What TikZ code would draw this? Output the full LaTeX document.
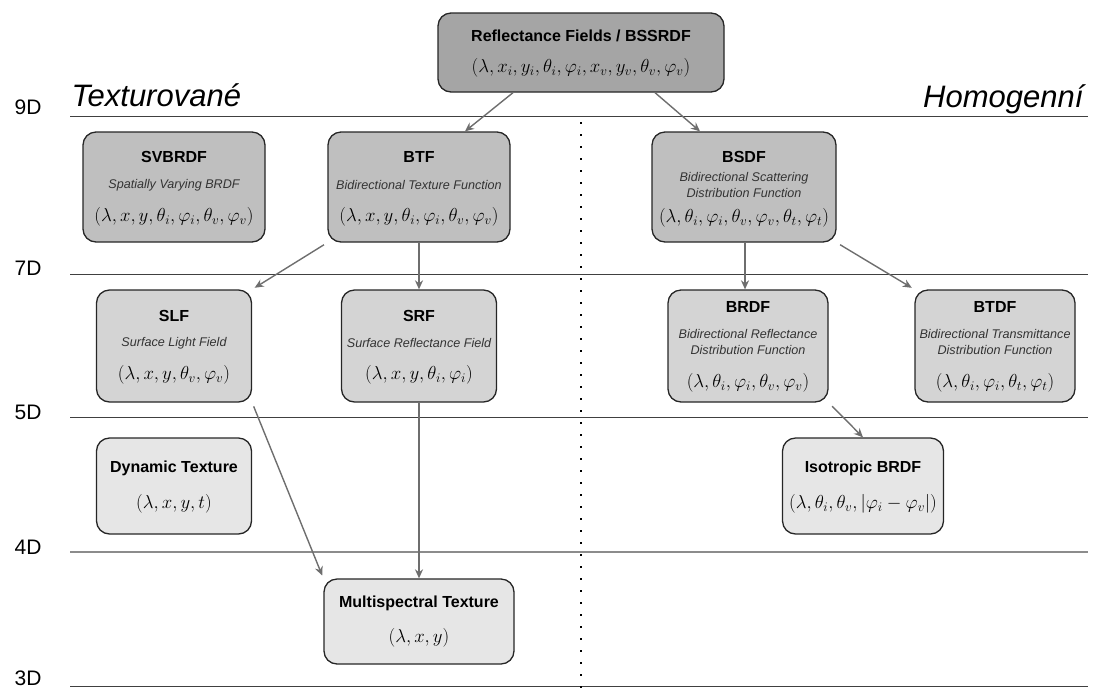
\RequirePackage{fix-cm}
\documentclass[tikz,border=0pt]{standalone}
\usepackage[no-math]{fontspec}
\setmainfont{Liberation Sans}
\usetikzlibrary{arrows.meta,calc}
\definecolor{cA}{HTML}{A5A5A5}
\definecolor{cB}{HTML}{BFBFBF}
\definecolor{cC}{HTML}{D4D4D4}
\definecolor{cD}{HTML}{E6E6E6}
\definecolor{lin}{HTML}{404040}
\definecolor{arr}{HTML}{6E6E6E}
\tikzset{
  bx/.style={draw=black!85, line width=1.3pt, rounded corners=13pt, inner sep=0pt},
  ttl/.style={font=\bfseries\fontsize{16}{18}\selectfont},
  sub/.style={font=\itshape\fontsize{12.6}{16}\selectfont, text=black!80, align=center},
  fm/.style={font=\fontsize{18.8}{21}\selectfont},
  lvl/.style={font=\fontsize{21}{24}\selectfont},
  hd/.style={font=\itshape\fontsize{31}{34}\selectfont},
  hl/.style={draw=lin, line width=1pt},
  hlg/.style={draw=black!45, line width=1.4pt},
  con/.style={draw=arr, line width=1.4pt, -{Stealth[length=9pt,width=8pt]}}
}
\begin{document}
\begin{tikzpicture}[x=1pt,y=-1pt]
\useasboundingbox (0,0) rectangle (1094,689);
% level lines
\foreach \yy/\lab/\ly/\st in {116/9D/107/hl, 274/7D/268/hl, 417/5D/412/hl, 552/4D/547/hlg, 686/3D/678/hl}{
  \draw[\st] (70,\yy) -- (1088,\yy);
  \node[lvl] at (28,\ly) {\lab};
}
\node[hd, anchor=base west] (tex) at (68,106) {Texturované};
\node[hd, anchor=base east] (hom) at (1087,107) {Homogenní};
% dotted separator
\draw[line width=2pt, dash pattern=on 2pt off 10pt] (581,122) -- (581,689);
% boxes
\node[bx, fill=cA, minimum width=286pt, minimum height=79pt] (refl) at (581,52.5) {};
\node[ttl] at (581,36) {Reflectance Fields / BSSRDF};
\node[fm] at (581,68) {$(\lambda, x_i, y_i, \theta_i, \varphi_i, x_v, y_v, \theta_v, \varphi_v)$};

\node[bx, fill=cB, minimum width=182pt, minimum height=110pt] (svb) at (174,187) {};
\node[ttl] at (174,157) {SVBRDF};
\node[sub] at (174,185) {Spatially Varying BRDF};
\node[fm] at (174,217) {$(\lambda, x, y, \theta_i, \varphi_i, \theta_v, \varphi_v)$};

\node[bx, fill=cB, minimum width=182pt, minimum height=110pt] (btf) at (419,187) {};
\node[ttl] at (419,157) {BTF};
\node[sub] at (419,185) {Bidirectional Texture Function};
\node[fm] at (419,217) {$(\lambda, x, y, \theta_i, \varphi_i, \theta_v, \varphi_v)$};

\node[bx, fill=cB, minimum width=184pt, minimum height=110pt] (bsdf) at (744,187) {};
\node[ttl] at (744,157) {BSDF};
\node[sub] at (744,185) {Bidirectional Scattering\\Distribution Function};
\node[fm] at (744,218) {$(\lambda, \theta_i, \varphi_i, \theta_v, \varphi_v, \theta_t, \varphi_t)$};

\node[bx, fill=cC, minimum width=155pt, minimum height=112pt] (slf) at (174,346) {};
\node[ttl] at (174,316) {SLF};
\node[sub] at (174,343) {Surface Light Field};
\node[fm] at (174,375) {$(\lambda, x, y, \theta_v, \varphi_v)$};

\node[bx, fill=cC, minimum width=155pt, minimum height=112pt] (srf) at (419,346) {};
\node[ttl] at (419,316) {SRF};
\node[sub] at (419,343) {Surface Reflectance Field};
\node[fm] at (419,375) {$(\lambda, x, y, \theta_i, \varphi_i)$};

\node[bx, fill=cC, minimum width=160pt, minimum height=112pt] (brdf) at (748,346) {};
\node[ttl] at (748,307) {BRDF};
\node[sub] at (748,342) {Bidirectional Reflectance\\Distribution Function};
\node[fm] at (748,383) {$(\lambda, \theta_i, \varphi_i, \theta_v, \varphi_v)$};

\node[bx, fill=cC, minimum width=160pt, minimum height=112pt] (btdf) at (995,346) {};
\node[ttl] at (995,307) {BTDF};
\node[sub] at (995,342) {Bidirectional Transmittance\\Distribution Function};
\node[fm] at (995,383) {$(\lambda, \theta_i, \varphi_i, \theta_t, \varphi_t)$};

\node[bx, fill=cD, minimum width=155pt, minimum height=96pt] (dyn) at (174,486) {};
\node[ttl] at (174,468) {Dynamic Texture};
\node[fm] at (174,504) {$(\lambda, x, y, t)$};

\node[bx, fill=cD, minimum width=161pt, minimum height=96pt] (iso) at (863,486) {};
\node[ttl] at (863,468) {Isotropic BRDF};
\node[fm] at (863,504) {$(\lambda, \theta_i, \theta_v, |\varphi_i - \varphi_v|)$};

\node[bx, fill=cD, minimum width=190pt, minimum height=85pt] (multi) at (419,621.5) {};
\node[ttl] at (419,603) {Multispectral Texture};
\node[fm] at (419,638) {$(\lambda, x, y)$};
% connectors
\draw[con] ($(refl.south)+(-68,0)$) -- ($(btf.north)+(46,0)$);
\draw[con] ($(refl.south)+(74,0)$) -- ($(bsdf.north)+(-44,0)$);
\draw[con, shorten <=4pt, shorten >=3pt] (btf.south west) -- (slf.north east);
\draw[con] (btf.south) -- (srf.north);
\draw[con] ($(bsdf.south)+(1,0)$) -- ($(brdf.north)+(-3,0)$);
\draw[con, shorten <=4pt, shorten >=3pt] (bsdf.south east) -- (btdf.north west);
\draw[con, shorten <=4pt, shorten >=3pt] (slf.south east) -- (multi.north west);
\draw[con] (srf.south) -- (multi.north);
\draw[con, shorten <=5pt] (brdf.south east) -- (iso.north);
\end{tikzpicture}
\end{document}
